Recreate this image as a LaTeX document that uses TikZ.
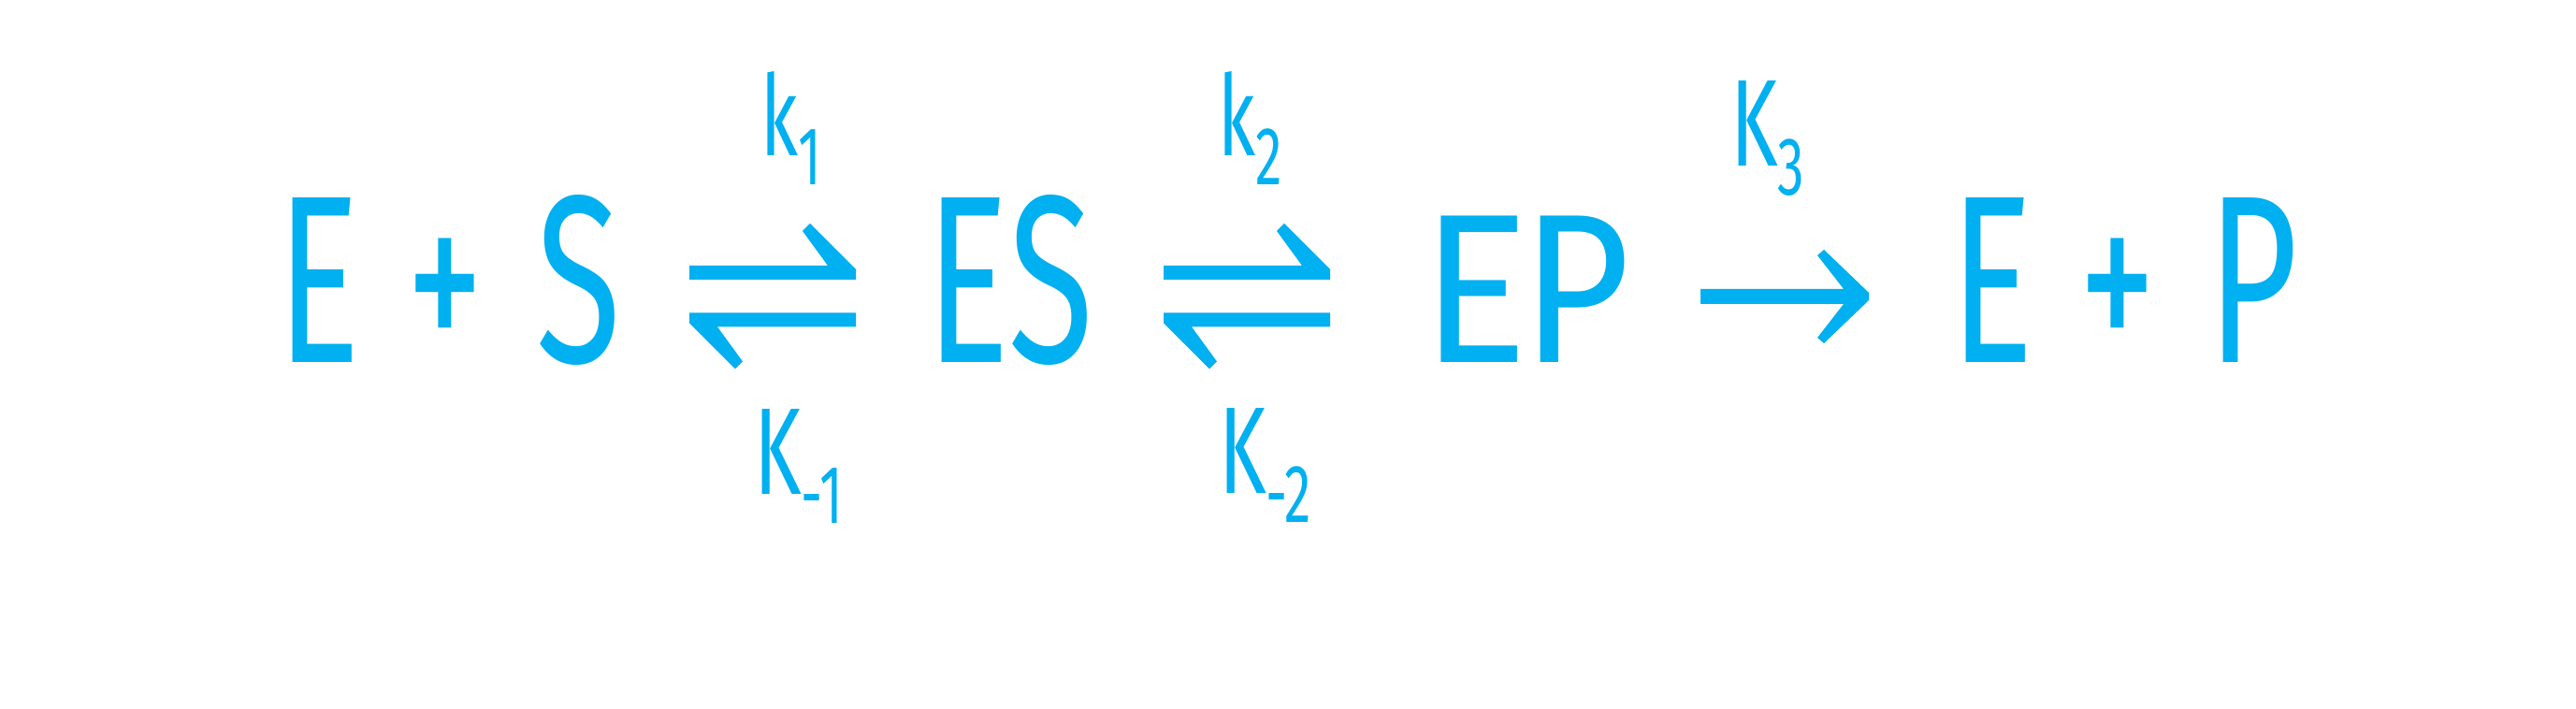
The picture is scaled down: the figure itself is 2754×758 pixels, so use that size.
\documentclass[tikz,border=0pt]{standalone}
\usepackage{fontspec}
\setmainfont{Fira Sans}[FakeStretch=0.65]
\newfontfamily\epfont{Carlito}[FakeStretch=0.89]
\usepackage{tikz}
\usetikzlibrary{calc}
\definecolor{ink}{HTML}{00B0F0}
\newcommand{\rsub}[1]{\raisebox{-15.5pt}{\fontsize{44}{44}\selectfont #1}}
\tikzset{
 species/.style={anchor=base,inner sep=0pt,text=ink,font=\fontsize{127.7}{130}\selectfont},
 rate/.style={anchor=base west,inner sep=0pt,text=ink,font=\fontsize{66}{66}\selectfont},
 lowrate/.style={rate,font=\fontsize{60}{60}\selectfont},
 fwd/.style={to path={(\tikztostart) ++(0,7.5) -- ($(\tikztotarget)+(-30,7.5)$) -- ($(\tikztotarget)+(-57,44.5)$) -- ($(\tikztotarget)+(-49,52.5)$) -- ($(\tikztotarget)+(0,3.5)$) -- ($(\tikztotarget)+(0,-7.5)$) -- ($(\tikztostart)+(0,-7.5)$) -- cycle}},
 bwd/.style={to path={(\tikztostart) ++(0,-7.5) -- ($(\tikztotarget)+(30,-7.5)$) -- ($(\tikztotarget)+(57,-44.5)$) -- ($(\tikztotarget)+(49,-52.5)$) -- ($(\tikztotarget)+(0,-3.5)$) -- ($(\tikztotarget)+(0,7.5)$) -- ($(\tikztostart)+(0,7.5)$) -- cycle}},
 yields/.style={to path={(\tikztostart) ++(0,8) -- ($(\tikztotarget)+(-27,8)$) -- ($(\tikztotarget)+(-55,44)$) -- ($(\tikztotarget)+(-48,50)$) -- ($(\tikztotarget)+(0,4)$) -- ($(\tikztotarget)+(0,-4)$) -- ($(\tikztotarget)+(-48,-50)$) -- ($(\tikztotarget)+(-55,-44)$) -- ($(\tikztotarget)+(-27,-8)$) -- ($(\tikztostart)+(0,-8)$) -- cycle}}
}
\begin{document}
\begin{tikzpicture}[x=.5pt,y=.5pt]
\useasboundingbox (0,0) rectangle (2754,758);
\fill[white] (0,0) rectangle (2754,758);
\node[species] (e1) at (341,370) {E};
\node[species] (p1) at (475.5,370) {+};
\node[species] (s1) at (619,370) {S};
\node[species] (es) at (1079.5,370) {ES};
\node[species,font=\epfont\fontsize{122}{124}\selectfont] (ep) at (1634.5,370) {EP};
\node[species] (e2) at (2130,370) {E};
\node[species] (p2) at (2264,370) {+};
\node[species] (pr) at (2408.5,370) {P};
\node[lowrate] (k1) at (813,591) {k\rsub{1}};
\node[rate] (km1) at (806,229) {K\rsub{-1}};
\node[lowrate] (k2) at (1302,591) {k\rsub{2}};
\node[rate] (km2) at (1303,230) {K\rsub{-2}};
\node[rate] (k3) at (1850,580) {K\rsub{3}};
\fill[ink] ($(s1.base)+(118,96.5)$) to[fwd] ($(es.base)+(-164.5,96.5)$);
\fill[ink] ($(es.base)+(-164.5,46)$) to[bwd] ($(s1.base)+(118,46)$);
\fill[ink] ($(es.base)+(164.5,96.5)$) to[fwd] ($(ep.base)+(-212.5,96.5)$);
\fill[ink] ($(ep.base)+(-212.5,46)$) to[bwd] ($(es.base)+(164.5,46)$);
\fill[ink] ($(ep.base)+(183.5,71)$) to[yields] ($(e2.base)+(-132,71)$);
\end{tikzpicture}
\end{document}
